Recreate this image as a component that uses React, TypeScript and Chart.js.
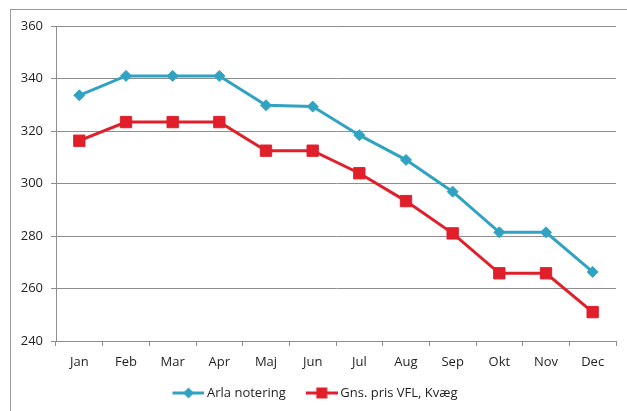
import React, { useEffect, useRef } from "react";
import { Chart, registerables } from "chart.js";

Chart.register(...registerables);

const months = ["Jan", "Feb", "Mar", "Apr", "Maj", "Jun", "Jul", "Aug", "Sep", "Okt", "Nov", "Dec"];
const arlaNotering = [333.6, 341.0, 341.0, 341.0, 329.8, 329.3, 318.4, 309.0, 296.9, 281.4, 281.4, 266.3];
const gnsPrisVFL = [316.3, 323.4, 323.4, 323.4, 312.5, 312.5, 303.9, 293.3, 281.0, 265.8, 265.8, 251.0];
const yTicks = [240, 260, 280, 300, 320, 340, 360];

const TEAL = "#31a3c2";
const RED = "#e01f2b";
const GRID = "#8e8e8e";
const TEXT = "#1f1f1f";
const FONT = "'Open Sans', 'Liberation Sans', sans-serif";

// legend icon: 40px wide image, visible line+marker spans image x 8..40
function legendIcon(color: string, style: "diamond" | "square"): HTMLCanvasElement {
  const c = document.createElement("canvas");
  c.width = 40;
  c.height = 14;
  const ctx = c.getContext("2d")!;
  ctx.strokeStyle = color;
  ctx.lineWidth = 3;
  ctx.beginPath();
  ctx.moveTo(8, 7);
  ctx.lineTo(40, 7);
  ctx.stroke();
  ctx.fillStyle = color;
  ctx.beginPath();
  const cx = 24;
  if (style === "diamond") {
    ctx.moveTo(cx, 1.5);
    ctx.lineTo(cx + 5.5, 7);
    ctx.lineTo(cx, 12.5);
    ctx.lineTo(cx - 5.5, 7);
    ctx.closePath();
  } else {
    ctx.rect(cx - 5.5, 1.5, 11, 11);
  }
  ctx.fill();
  return c;
}

export default function App() {
  const ref = useRef<HTMLCanvasElement | null>(null);
  useEffect(() => {
    if (!ref.current) return;
    const icons = [legendIcon(TEAL, "diamond"), legendIcon(RED, "square")];
    const legendFix = {
      id: "legendFix",
      afterInit(chart: any) {
        const lg = chart.legend;
        if (lg) {
          const orig = lg.fit.bind(lg);
          lg.fit = function () {
            orig();
            this.height = 40.5;
          };
        }
      },
    };
    const chart = new Chart(ref.current, {
      type: "line",
      data: {
        labels: months,
        datasets: [
          {
            label: "Arla notering",
            data: arlaNotering,
            borderColor: TEAL,
            backgroundColor: TEAL,
            borderWidth: 3,
            pointStyle: "rectRot",
            pointRadius: 5.5,
            pointBorderWidth: 1,
            tension: 0,
          },
          {
            label: "Gns. pris VFL, Kvæg",
            data: gnsPrisVFL,
            borderColor: RED,
            backgroundColor: RED,
            borderWidth: 3,
            pointStyle: "rect",
            pointRadius: 8,
            pointBorderWidth: 1,
            tension: 0,
          },
        ],
      },
      options: {
        responsive: false,
        animation: false,
        layout: { padding: { left: 10, top: 26, right: 11, bottom: 0 } },
        plugins: {
          tooltip: { enabled: false },
          legend: {
            position: "bottom",
            labels: {
              usePointStyle: true,
              pointStyleWidth: 32,
              padding: 16,
              color: TEXT,
              font: { family: FONT, size: 13 },
              generateLabels: (chart: any) =>
                chart.data.datasets.map((ds: any, i: number) => ({
                  text: ds.label,
                  fillStyle: ds.borderColor,
                  strokeStyle: ds.borderColor,
                  lineWidth: 0,
                  pointStyle: icons[i],
                  datasetIndex: i,
                  hidden: false,
                  fontColor: TEXT,
                })),
            },
          },
        },
        scales: {
          x: {
            offset: true,
            grid: {
              offset: true,
              drawOnChartArea: false,
              drawTicks: true,
              tickLength: 5,
              color: GRID,
            },
            border: { display: true, color: GRID, width: 1 },
            ticks: { color: TEXT, font: { family: FONT, size: 13 }, padding: 8, maxRotation: 0 },
            afterFit: (s: any) => {
              s.height = 29.5;
            },
          },
          y: {
            min: 240,
            max: 360,
            afterBuildTicks: (s: any) => {
              s.ticks = yTicks.map((v) => ({ value: v }));
            },
            grid: { color: GRID, tickLength: 5, drawTicks: true },
            border: { display: true, color: GRID, width: 1 },
            ticks: { color: TEXT, font: { family: FONT, size: 13 }, padding: 8 },
            afterFit: (s: any) => {
              s.width = 46;
            },
          },
        },
      },
      plugins: [legendFix],
    });
    return () => chart.destroy();
  }, []);
  return (
    <div style={{ position: "fixed", left: 0, top: 0, width: 627, height: 411, background: "#fff" }}>
      <div
        style={{
          position: "absolute",
          left: 10,
          top: 9,
          right: 0,
          bottom: 0,
          borderLeft: "1px solid #9a9a9a",
          borderTop: "1px solid #9a9a9a",
        }}
      />
      <canvas ref={ref} width={627} height={411} style={{ position: "absolute", left: 0, top: 0 }} />
    </div>
  );
}
